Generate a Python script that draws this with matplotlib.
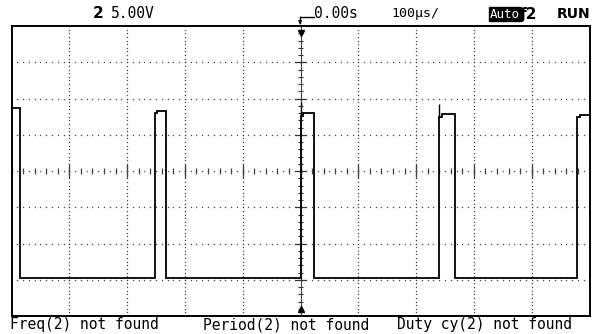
import numpy as np
import matplotlib.pyplot as plt
from matplotlib.lines import Line2D

# Scope settings (from the screen)
t_div = 100.0   # us / div
v_div = 5.0     # V / div

# Edge times (us)
fall_t = [-486, -233, 23, 267]
rise_t = [-252, 0, 240, 479]
# pulse levels (V): first point after the edge, then the flat top
top_start = [8.7, 7.96, 7.6, 7.5, 7.45]
top_flat = [8.7, 8.3, 7.95, 7.8, 7.7]
low_v = -14.8

W, H = 595, 334
fig = plt.figure(figsize=(W / 100, H / 100), dpi=100)
L, R, T, B = 11.5, 589.5, 26.0, 316.0
ax = fig.add_axes([L / W, (H - B) / H, (R - L) / W, (B - T) / H])
ax.set_xlim(-5 * t_div, 5 * t_div)
ax.set_ylim(-4 * v_div, 4 * v_div)
ax.set_xticks([])
ax.set_yticks([])
for s in ax.spines.values():
    s.set_linewidth(1.4)
    s.set_color("black")

# dotted graticule (dots every 0.1 div)
gcol = "#444444"
for k in [-4, -3, -2, -1, 1, 2, 3, 4]:
    yy = np.arange(-4 * v_div, 4 * v_div + 0.01, v_div / 10)
    ax.plot(np.full_like(yy, k * t_div), yy, ls="none", marker="s", ms=0.9,
            mew=0, color=gcol)
for k in [-3, -2, -1, 1, 2, 3]:
    xx = np.arange(-5 * t_div, 5 * t_div + 0.01, t_div / 10)
    ax.plot(xx, np.full_like(xx, k * v_div), ls="none", marker="s", ms=0.9,
            mew=0, color=gcol)

# centre horizontal axis: dots + ticks every 0.2 div, longer at divisions
xx = np.arange(-5 * t_div, 5 * t_div + 0.01, t_div / 10)
ax.plot(xx, np.zeros_like(xx), ls="none", marker="s", ms=0.9, mew=0, color=gcol)
minor_x = np.arange(-5 * t_div, 5 * t_div + 0.01, t_div / 5)
ax.vlines(minor_x, -0.35, 0.35, color="#444444", lw=0.9)
ax.vlines(np.arange(-4, 5) * t_div, -0.9, 0.9, color="#444444", lw=0.9)

# centre vertical axis: solid with ticks
ax.axvline(0, color="#444444", lw=0.8)
minor_y = np.arange(-4 * v_div, 4 * v_div + 0.01, v_div / 5)
ax.hlines(minor_y, -5, 5, color="#333333", lw=0.8)
ax.hlines(np.arange(-3, 4) * v_div, -10, 10, color="#333333", lw=0.9)

# trace
tx = [-5 * t_div]
ty = [top_flat[0]]
for i in range(4):
    tx += [fall_t[i], fall_t[i], rise_t[i], rise_t[i], rise_t[i] + 4, rise_t[i] + 4]
    ty += [ty[-1], low_v, low_v, top_start[i + 1], top_start[i + 1], top_flat[i + 1]]
tx.append(5 * t_div)
ty.append(top_flat[4])
ax.plot(tx, ty, color="black", lw=1.3, solid_joinstyle="miter")
# small overshoot spikes at a couple of rising edges
ax.vlines([0, 240], [7.6, 7.5], [9.5, 9.2], color="black", lw=1.0)

# trigger position markers
ax.plot([0], [4 * v_div - 0.9], marker="v", ms=5, color="black", clip_on=False)
ax.plot([0], [-4 * v_div + 0.9], marker="^", ms=5, color="black", clip_on=False)


def fx(px):
    return px / W


def fy(py):
    return (H - py) / H


mono = "DejaVu Sans Mono"

# top status line
ty0 = fy(14)
fig.text(fx(93), ty0, "2", fontsize=11, fontweight="bold", va="center",
         family="DejaVu Sans")
fig.text(fx(111), ty0, "5.00V", fontsize=10.5, va="center", family=mono)
fig.add_artist(Line2D([fx(300), fx(314)], [fy(17), fy(17)], color="black",
                      lw=1.0, transform=fig.transFigure))
fig.add_artist(Line2D([fx(300), fx(300)], [fy(17), fy(23)], color="black",
                      lw=1.0, transform=fig.transFigure))
fig.text(fx(300), fy(23), "\u25bc", fontsize=4, ha="center", va="center")
fig.text(fx(314), ty0, "0.00s", fontsize=10.5, va="center", family=mono)
fig.text(fx(391), ty0, "100\u00b5s/", fontsize=9.5, va="center", family=mono)
fig.text(fx(490), ty0, "Auto", fontsize=9, va="center", color="white",
         family=mono,
         bbox=dict(boxstyle="square,pad=0.05", fc="black", ec="black"))
fig.text(fx(520), ty0, "\u01922", fontsize=11, fontweight="bold", va="center",
         family="DejaVu Sans")
fig.text(fx(557), ty0, "RUN", fontsize=10, fontweight="bold", va="center",
         family="DejaVu Sans")

# bottom measurement line
by = fy(325)
fig.text(fx(10), by, "Freq(2) not found", fontsize=10.5, va="center", family=mono)
fig.text(fx(203), by, "Period(2) not found", fontsize=10.5, va="center", family=mono)
fig.text(fx(397), by, "Duty cy(2) not found", fontsize=10.5, va="center", family=mono)

fig.savefig("out.png", dpi=100, facecolor="white")
